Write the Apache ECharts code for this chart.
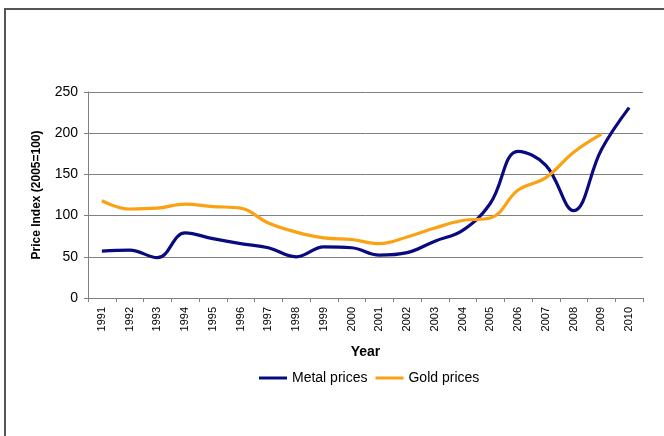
<!DOCTYPE html>
<html>
<head>
<meta charset="utf-8">
<script src="https://cdn.jsdelivr.net/npm/echarts@6/dist/echarts.min.js"></script>
<style>
  html, body { margin: 0; padding: 0; background: #fff; }
  #chart { width: 664px; height: 436px; }
</style>
</head>
<body>
<div id="chart"></div>
<script>
// years on the category axis
var years = ['1991','1992','1993','1994','1995','1996','1997','1998','1999','2000',
             '2001','2002','2003','2004','2005','2006','2007','2008','2009','2010'];
// price index, 2005=100
var metalPrices = [57, 58, 49, 79, 72, 66, 61, 50, 62, 61, 52, 55, 69, 82, 115, 178, 161, 106, 180, 231];
var goldPrices = [118, 108, 109, 114, 111, 109, 91, 80, 73, 71, 66, 74, 85, 94, 97, 131, 146, 177, 199, null];

var myChart = echarts.init(document.getElementById('chart'));

var option = {
    animation: false,
    textStyle: { fontFamily: 'Liberation Sans, Arial, sans-serif' },
    // frame round the chart (top and left edge show in the picture)
    graphic: [{
        type: 'polyline',
        shape: { points: [[5, 436], [5, 9], [664, 9]] },
        style: { stroke: '#555', lineWidth: 2, fill: null }
    }],
    grid: { left: 88, right: 21, top: 92, bottom: 138 },
    legend: {
        bottom: 46,
        left: 254,
        itemWidth: 28,
        itemHeight: 3,
        itemGap: 8,
        icon: 'rect',
        textStyle: { fontSize: 14, color: '#000' },
        data: ['Metal prices', 'Gold prices']
    },
    xAxis: {
        type: 'category',
        data: years,
        boundaryGap: true,
        name: 'Year',
        nameLocation: 'middle',
        nameGap: 47,
        nameTextStyle: { fontWeight: 'bold', fontSize: 14, color: '#000' },
        axisLine: { lineStyle: { color: '#808080' } },
        axisTick: { show: true, length: 4, lineStyle: { color: '#808080' } },
        axisLabel: { rotate: 90, fontSize: 11, color: '#000', margin: 9 }
    },
    yAxis: {
        type: 'value',
        min: 0,
        max: 250,
        interval: 50,
        name: 'Price Index (2005=100)',
        nameLocation: 'middle',
        nameGap: 45,
        nameTextStyle: { fontWeight: 'bold', fontSize: 12, color: '#000' },
        axisLine: { show: true, lineStyle: { color: '#808080' } },
        axisTick: { show: true, length: 4, lineStyle: { color: '#808080' } },
        axisLabel: { fontSize: 14, color: '#000', margin: 10 },
        splitLine: { lineStyle: { color: '#808080', width: 1 } }
    },
    series: [{
        name: 'Metal prices',
        type: 'line',
        data: metalPrices,
        smooth: 0.4,
        symbol: 'none',
        lineStyle: { color: '#0a0a80', width: 3.2 },
        itemStyle: { color: '#0a0a80' }
    }, {
        name: 'Gold prices',
        type: 'line',
        data: goldPrices,
        smooth: 0.4,
        symbol: 'none',
        lineStyle: { color: '#fba114', width: 3.2 },
        itemStyle: { color: '#fba114' }
    }]
};

myChart.setOption(option);
</script>
</body>
</html>
